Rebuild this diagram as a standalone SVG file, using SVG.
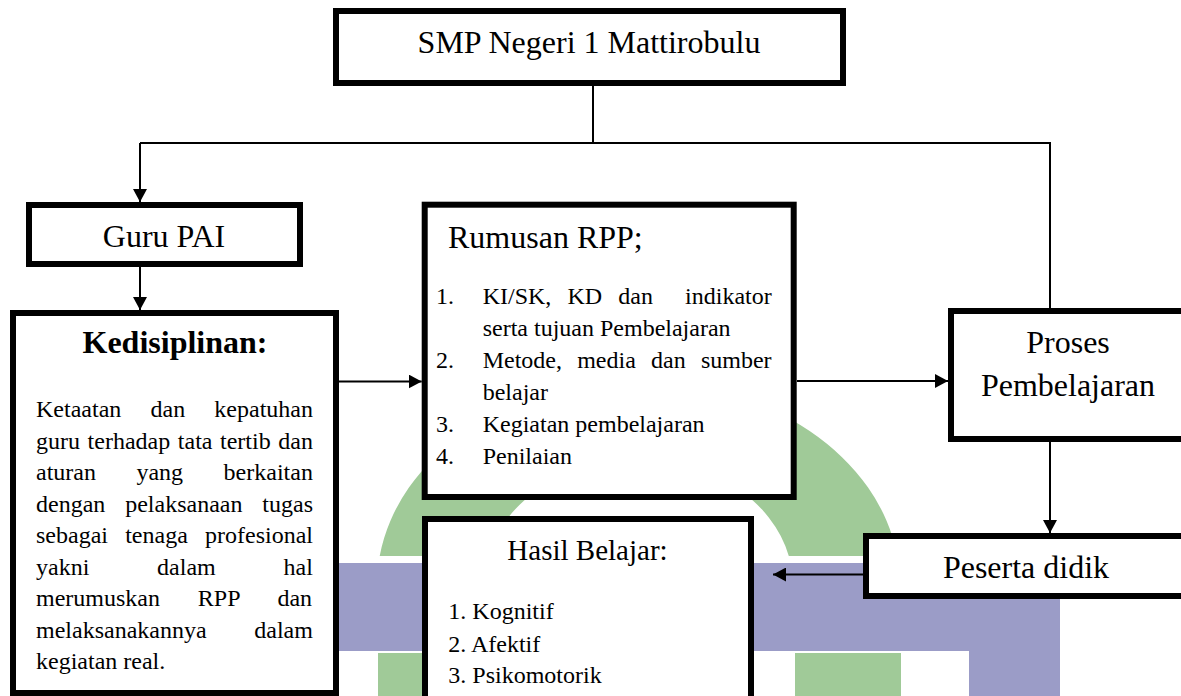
<svg xmlns="http://www.w3.org/2000/svg" width="1181" height="696" viewBox="0 0 1181 696">
<style>
text{font-family:"Liberation Serif","Times New Roman",serif;fill:#000}
.box{fill:#fff;stroke:#000;stroke-width:6}
.t32{font-size:32px}
.t24{font-size:24px}
.con{fill:none;stroke:#000;stroke-width:2}
.arr{marker-end:url(#ah)}
.wg{fill:#a0ca98}
.wp{fill:#9b9cc7}
</style>
<defs>
<marker id="ah" markerUnits="userSpaceOnUse" markerWidth="14" markerHeight="14" refX="13" refY="7" orient="auto">
<path d="M0,0 L13,7 L0,14 Z" fill="#000"/>
</marker>
</defs>
<rect width="1181" height="696" fill="#fff"/>
<g id="watermark">
<rect class="wp" x="217" y="563" width="843" height="88"/>
<rect class="wp" x="217" y="563" width="91" height="133"/>
<rect class="wp" x="969" y="563" width="91" height="133"/>
<path class="wg" d="M379.7,556 A261.5,204 0 0 1 897.3,556 L788.8,556 A154.5,126 0 0 0 488.2,556 Z"/>
<rect class="wg" x="378" y="653" width="106" height="43"/>
<rect class="wg" x="795" y="653" width="106" height="43"/>
</g>
<g id="connectors">
<path class="con" d="M593,86 V143 M140,143 H1050 V308"/>
<path class="con arr" d="M140,143 V202"/>
<path class="con arr" d="M140,267 V310"/>
<path class="con arr" d="M339,381.5 H421.7"/>
<path class="con arr" d="M797,381 H948"/>
<path class="con arr" d="M1050,442 V533"/>
<path class="con arr" d="M863,574.5 H773"/>
</g>
<g id="smp">
<rect class="box" x="336" y="11" width="507" height="72"/>
<text class="t32" x="589" y="53" text-anchor="middle">SMP Negeri 1 Mattirobulu</text>
</g>
<g id="guru">
<rect class="box" x="29" y="205" width="271" height="59"/>
<text class="t32" x="164" y="247" text-anchor="middle">Guru PAI</text>
</g>
<g id="kedisiplinan">
<rect class="box" x="13" y="313" width="323" height="380"/>
<text class="t32" x="175" y="353" text-anchor="middle" font-weight="bold">Kedisiplinan:</text>
<text class="t24" x="36" y="417" style="word-spacing:23.2px">Ketaatan dan kepatuhan</text>
<text class="t24" x="36" y="448.5" style="word-spacing:1.6px">guru terhadap tata tertib dan</text>
<text class="t24" x="36" y="480" style="word-spacing:34.5px">aturan yang berkaitan</text>
<text class="t24" x="36" y="511.5" style="word-spacing:13.9px">dengan pelaksanaan tugas</text>
<text class="t24" x="36" y="543" style="word-spacing:11.2px">sebagai tenaga profesional</text>
<text class="t24" x="36" y="574.5" style="word-spacing:61.8px">yakni dalam hal</text>
<text class="t24" x="36" y="606" style="word-spacing:31.8px">merumuskan RPP dan</text>
<text class="t24" x="36" y="637.5" style="word-spacing:41.7px">melaksanakannya dalam</text>
<text class="t24" x="36" y="669">kegiatan real.</text>
</g>
<g id="rumusan">
<rect class="box" x="424.7" y="204.7" width="369" height="292.3"/>
<text class="t32" x="448" y="248">Rumusan RPP;</text>
<text class="t24" x="436" y="304">1.</text>
<text class="t24" x="482.7" y="304" xml:space="preserve" style="word-spacing:10.1px">KI/SK, KD dan  indikator</text>
<text class="t24" x="482.7" y="336">serta tujuan Pembelajaran</text>
<text class="t24" x="436" y="368">2.</text>
<text class="t24" x="482.7" y="368" style="word-spacing:9.2px">Metode, media dan sumber</text>
<text class="t24" x="482.7" y="400">belajar</text>
<text class="t24" x="436" y="432">3.</text>
<text class="t24" x="482.7" y="432">Kegiatan pembelajaran</text>
<text class="t24" x="436" y="464">4.</text>
<text class="t24" x="482.7" y="464">Penilaian</text>
</g>
<g id="proses">
<rect class="box" x="951" y="311" width="260" height="128"/>
<text class="t32" x="1068" y="353" text-anchor="middle">Proses</text>
<text class="t32" x="1068" y="396" text-anchor="middle">Pembelajaran</text>
</g>
<g id="peserta">
<rect class="box" x="866" y="536" width="340" height="60"/>
<text class="t32" x="1026" y="578" text-anchor="middle">Peserta didik</text>
</g>
<g id="hasil">
<rect class="box" x="425" y="519" width="326" height="200"/>
<text x="587.5" y="560" text-anchor="middle" font-size="29">Hasil Belajar:</text>
<text class="t24" x="448.3" y="619">1. Kognitif</text>
<text class="t24" x="448.3" y="651.5">2. Afektif</text>
<text class="t24" x="448.3" y="683">3. Psikomotorik</text>
</g>
</svg>
